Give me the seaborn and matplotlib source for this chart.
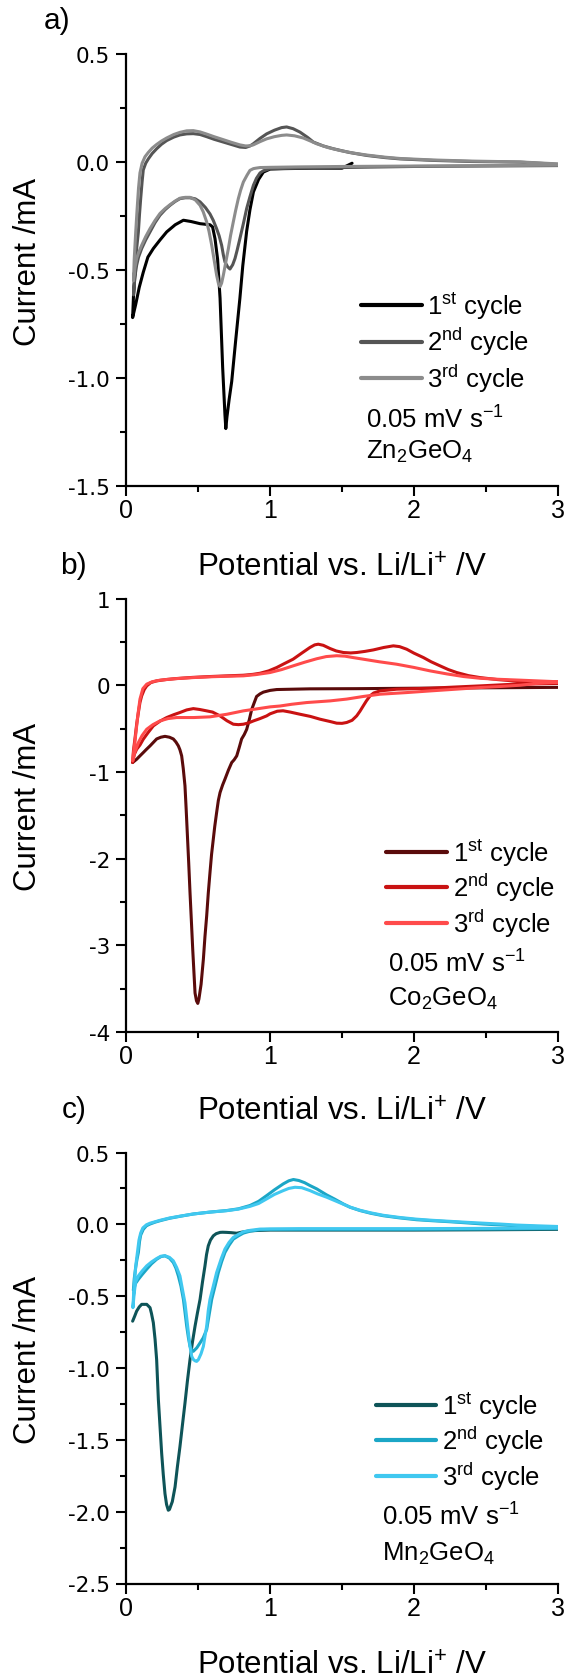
import numpy as np
import matplotlib
matplotlib.use("Agg")
import matplotlib.pyplot as plt
from matplotlib.ticker import MultipleLocator, AutoMinorLocator, FormatStrFormatter
import seaborn as sns

# ---------------- data (potential V vs. Li/Li+, current mA) ----------------
# Panel a: Zn2GeO4
zn1_cath_v = [1.57, 1.50, 1.30, 1.10, 1.00, 0.953, 0.92, 0.884, 0.86, 0.837, 0.81, 0.79, 0.76, 0.733, 0.715,
              0.70, 0.692, 0.686, 0.67, 0.652, 0.635, 0.617, 0.60, 0.582, 0.513, 0.45, 0.397, 0.34, 0.281,
              0.235, 0.188, 0.15, 0.118, 0.09, 0.065, 0.044, 0.05, 0.06]
zn1_cath_i = [-0.005, -0.028, -0.028, -0.03, -0.032, -0.046, -0.08, -0.138, -0.22, -0.32, -0.48, -0.63, -0.83,
              -1.016, -1.10, -1.18, -1.234, -1.17, -0.95, -0.63, -0.45, -0.355, -0.30, -0.29, -0.285, -0.275,
              -0.269, -0.29, -0.323, -0.36, -0.40, -0.44, -0.51, -0.58, -0.66, -0.72, -0.62, -0.52]
zn1_an_v = []
zn1_an_i = []

zn2_cath_v = [3.0, 2.5, 2.0, 1.5, 1.2, 1.0, 0.953, 0.93, 0.905, 0.884, 0.86, 0.837, 0.814, 0.79, 0.77, 0.756,
              0.74, 0.721, 0.705, 0.686, 0.675, 0.663, 0.645, 0.628, 0.605, 0.582, 0.55, 0.513, 0.48, 0.443,
              0.41, 0.373, 0.34, 0.304, 0.27, 0.234, 0.2, 0.165, 0.135, 0.107, 0.085, 0.072, 0.06, 0.05]
zn2_cath_i = [-0.016, -0.018, -0.02, -0.025, -0.028, -0.03, -0.04, -0.05, -0.075, -0.107, -0.16, -0.215,
              -0.285, -0.354, -0.41, -0.446, -0.475, -0.495, -0.485, -0.462, -0.43, -0.385, -0.34, -0.308,
              -0.27, -0.24, -0.21, -0.184, -0.17, -0.165, -0.165, -0.169, -0.182, -0.2, -0.22, -0.246, -0.28,
              -0.323, -0.36, -0.40, -0.44, -0.477, -0.53, -0.615]
zn2_an_v = [0.06, 0.072, 0.084, 0.092, 0.1, 0.11, 0.118, 0.135, 0.153, 0.18, 0.211, 0.245, 0.281, 0.33, 0.373,
            0.42, 0.466, 0.513, 0.559, 0.61, 0.675, 0.73, 0.79, 0.83, 0.86, 0.883, 0.93, 0.976, 1.03, 1.08,
            1.115, 1.16, 1.208, 1.26, 1.301, 1.37, 1.44, 1.55, 1.672, 1.8, 1.904, 2.136, 2.4, 2.74, 3.0]
zn2_an_i = [-0.50, -0.40, -0.323, -0.24, -0.169, -0.09, -0.036, -0.005, 0.015, 0.04, 0.062, 0.083, 0.10,
            0.116, 0.126, 0.131, 0.132, 0.128, 0.118, 0.106, 0.093, 0.082, 0.07, 0.068, 0.075, 0.085, 0.11,
            0.131, 0.148, 0.16, 0.163, 0.155, 0.139, 0.115, 0.093, 0.075, 0.062, 0.045, 0.031, 0.021, 0.015,
            0.008, 0.003, 0.0, -0.01]

zn3_cath_v = [3.0, 2.5, 2.0, 1.5, 1.2, 1.0, 0.93, 0.9, 0.884, 0.86, 0.84, 0.814, 0.795, 0.779, 0.76, 0.744,
              0.725, 0.71, 0.69, 0.675, 0.663, 0.652, 0.64, 0.628, 0.61, 0.594, 0.575, 0.559, 0.535, 0.513,
              0.48, 0.443, 0.41, 0.373, 0.34, 0.304, 0.27, 0.234, 0.2, 0.165, 0.135, 0.107, 0.085, 0.072,
              0.06, 0.05]
zn3_cath_i = [-0.014, -0.016, -0.018, -0.02, -0.022, -0.024, -0.025, -0.028, -0.03, -0.038, -0.06, -0.092,
              -0.13, -0.169, -0.225, -0.277, -0.34, -0.40, -0.47, -0.523, -0.56, -0.577, -0.56, -0.523, -0.45,
              -0.385, -0.32, -0.277, -0.23, -0.20, -0.175, -0.163, -0.163, -0.167, -0.18, -0.197, -0.215,
              -0.238, -0.27, -0.308, -0.345, -0.385, -0.42, -0.446, -0.49, -0.55]
zn3_an_v = [0.055, 0.065, 0.075, 0.085, 0.095, 0.11, 0.13, 0.153, 0.18, 0.211, 0.245, 0.281, 0.33, 0.373,
            0.42, 0.466, 0.513, 0.559, 0.61, 0.675, 0.73, 0.79, 0.83, 0.86, 0.883, 0.93, 0.976, 1.03, 1.08,
            1.115, 1.17, 1.23, 1.28, 1.324, 1.4, 1.486, 1.58, 1.672, 1.8, 1.904, 2.136, 2.4, 2.74, 3.0]
zn3_an_i = [-0.45, -0.33, -0.22, -0.12, -0.05, -0.005, 0.025, 0.045, 0.065, 0.082, 0.098, 0.112, 0.128,
            0.138, 0.145, 0.146, 0.14, 0.13, 0.118, 0.104, 0.092, 0.08, 0.075, 0.076, 0.08, 0.095, 0.108,
            0.118, 0.124, 0.126, 0.122, 0.112, 0.098, 0.085, 0.068, 0.054, 0.042, 0.033, 0.023, 0.017, 0.01,
            0.005, 0.001, -0.008]

# Panel b: Co2GeO4
co1_cath_v = [3.0, 2.5, 2.0, 1.6, 1.277, 1.1, 1.046, 1.0, 0.953, 0.93, 0.906, 0.89, 0.872, 0.855, 0.837,
              0.82, 0.802, 0.785, 0.768, 0.75, 0.733, 0.71, 0.686, 0.67, 0.652, 0.64, 0.628, 0.615, 0.605,
              0.593, 0.582, 0.57, 0.559, 0.547, 0.536, 0.52, 0.505, 0.497, 0.488, 0.478, 0.47, 0.462, 0.452,
              0.443, 0.434, 0.424, 0.416, 0.408, 0.396, 0.385, 0.373, 0.362, 0.345, 0.327, 0.3, 0.269, 0.24,
              0.211, 0.188, 0.165, 0.14, 0.118, 0.095, 0.072, 0.044]
co1_cath_i = [-0.025, -0.03, -0.035, -0.04, -0.042, -0.048, -0.05, -0.06, -0.08, -0.1, -0.13, -0.2, -0.28,
              -0.4, -0.51, -0.57, -0.62, -0.72, -0.815, -0.86, -0.892, -0.98, -1.084, -1.15, -1.238, -1.33,
              -1.47, -1.63, -1.776, -1.95, -2.16, -2.4, -2.66, -2.9, -3.16, -3.45, -3.62, -3.67, -3.64, -3.55,
              -3.3, -3.05, -2.7, -2.39, -2.05, -1.70, -1.42, -1.16, -0.96, -0.815, -0.745, -0.70, -0.655,
              -0.62, -0.60, -0.59, -0.60, -0.62, -0.66, -0.70, -0.74, -0.777, -0.815, -0.854, -0.892]
co1_an_v = []
co1_an_i = []

co2_cath_v = [3.0, 2.85, 2.69, 2.46, 2.3, 2.113, 1.88, 1.764, 1.72, 1.695, 1.67, 1.648, 1.625, 1.602, 1.57,
              1.533, 1.5, 1.463, 1.42, 1.347, 1.28, 1.208, 1.14, 1.09, 1.05, 1.0, 0.976, 0.93, 0.884, 0.85,
              0.814, 0.78, 0.744, 0.70, 0.652, 0.6, 0.559, 0.51, 0.466, 0.42, 0.373, 0.33, 0.281, 0.234,
              0.188, 0.15, 0.118, 0.095, 0.072, 0.055, 0.044]
co2_cath_i = [0.02, 0.015, 0.011, -0.008, -0.02, -0.035, -0.046, -0.066, -0.09, -0.123, -0.18, -0.238, -0.3,
              -0.354, -0.405, -0.43, -0.44, -0.438, -0.42, -0.392, -0.36, -0.335, -0.31, -0.295, -0.30,
              -0.33, -0.354, -0.385, -0.412, -0.435, -0.45, -0.455, -0.45, -0.41, -0.354, -0.31, -0.296,
              -0.28, -0.27, -0.285, -0.315, -0.34, -0.373, -0.415, -0.469, -0.55, -0.623, -0.69, -0.739,
              -0.80, -0.892]
co2_an_v = [0.05, 0.06, 0.072, 0.084, 0.095, 0.107, 0.125, 0.142, 0.17, 0.211, 0.28, 0.35, 0.46, 0.582, 0.7,
            0.814, 0.88, 0.93, 0.99, 1.046, 1.1, 1.16, 1.22, 1.277, 1.31, 1.335, 1.37, 1.417, 1.46, 1.51,
            1.56, 1.602, 1.66, 1.718, 1.79, 1.857, 1.9, 1.95, 2.0, 2.066, 2.12, 2.182, 2.24, 2.298, 2.38,
            2.46, 2.58, 2.69, 2.82, 3.0]
co2_an_i = [-0.75, -0.62, -0.45, -0.315, -0.2, -0.123, -0.05, -0.008, 0.03, 0.05, 0.066, 0.077, 0.09, 0.1,
            0.108, 0.115, 0.125, 0.138, 0.165, 0.204, 0.25, 0.3, 0.37, 0.435, 0.465, 0.473, 0.46, 0.423,
            0.395, 0.377, 0.372, 0.377, 0.39, 0.407, 0.435, 0.454, 0.445, 0.415, 0.37, 0.319, 0.27, 0.223,
            0.18, 0.146, 0.11, 0.088, 0.065, 0.05, 0.035, 0.025]

co3_cath_v = [3.0, 2.85, 2.74, 2.6, 2.46, 2.3, 2.113, 1.95, 1.764, 1.648, 1.533, 1.417, 1.34, 1.255, 1.15,
              1.069, 1.0, 0.9, 0.814, 0.7, 0.582, 0.47, 0.35, 0.29, 0.234, 0.185, 0.142, 0.11, 0.084, 0.06,
              0.044]
co3_cath_i = [0.035, 0.02, 0.0, -0.015, -0.027, -0.045, -0.066, -0.085, -0.104, -0.13, -0.16, -0.181, -0.19,
              -0.2, -0.22, -0.24, -0.25, -0.275, -0.296, -0.335, -0.365, -0.373, -0.373, -0.385, -0.412,
              -0.455, -0.508, -0.58, -0.662, -0.77, -0.873]
co3_an_v = [0.05, 0.058, 0.067, 0.08, 0.095, 0.115, 0.142, 0.18, 0.234, 0.34, 0.466, 0.6, 0.7, 0.814, 0.9,
            0.999, 1.08, 1.16, 1.24, 1.324, 1.39, 1.463, 1.52, 1.58, 1.648, 1.76, 1.88, 2.0, 2.113, 2.23,
            2.345, 2.46, 2.576, 2.74, 3.0]
co3_an_i = [-0.78, -0.68, -0.546, -0.35, -0.161, -0.04, 0.012, 0.04, 0.058, 0.075, 0.088, 0.098, 0.103,
            0.108, 0.122, 0.146, 0.18, 0.223, 0.265, 0.305, 0.33, 0.34, 0.335, 0.318, 0.3, 0.27, 0.242,
            0.205, 0.165, 0.13, 0.1, 0.08, 0.069, 0.058, 0.04]

# Panel c: Mn2GeO4
mn1_cath_v = [3.0, 2.5, 2.0, 1.5, 1.2, 0.999, 0.93, 0.86, 0.8, 0.768, 0.73, 0.698, 0.67, 0.652, 0.625, 0.605,
              0.585, 0.57, 0.558, 0.547, 0.53, 0.513, 0.495, 0.478, 0.46, 0.443, 0.425, 0.408, 0.39, 0.373,
              0.355, 0.339, 0.32, 0.3, 0.292, 0.28, 0.269, 0.257, 0.246, 0.234, 0.223, 0.211, 0.2, 0.188,
              0.175, 0.165, 0.142, 0.107, 0.09, 0.072, 0.058, 0.044]
mn1_cath_i = [-0.035, -0.038, -0.04, -0.04, -0.04, -0.04, -0.042, -0.045, -0.055, -0.062, -0.058, -0.056,
              -0.055, -0.056, -0.065, -0.08, -0.11, -0.15, -0.21, -0.29, -0.4, -0.522, -0.615, -0.709, -0.82,
              -0.942, -1.09, -1.245, -1.4, -1.548, -1.69, -1.828, -1.93, -1.985, -1.99, -1.95, -1.875, -1.74,
              -1.595, -1.4, -1.22, -0.942, -0.8, -0.685, -0.62, -0.58, -0.557, -0.557, -0.575, -0.604, -0.64,
              -0.674]
mn1_an_v = []
mn1_an_i = []

mn2_cath_v = [3.0, 2.5, 2.0, 1.5, 1.2, 1.0, 0.93, 0.86, 0.814, 0.78, 0.744, 0.715, 0.686, 0.663, 0.64, 0.617,
              0.594, 0.576, 0.559, 0.535, 0.513, 0.49, 0.466, 0.455, 0.443, 0.432, 0.42, 0.408, 0.397, 0.38,
              0.362, 0.345, 0.327, 0.3, 0.269, 0.24, 0.211, 0.175, 0.142, 0.11, 0.084, 0.065, 0.049]
mn2_cath_i = [-0.03, -0.033, -0.035, -0.035, -0.035, -0.035, -0.037, -0.048, -0.061, -0.08, -0.103, -0.145,
              -0.196, -0.26, -0.336, -0.43, -0.522, -0.63, -0.732, -0.79, -0.825, -0.86, -0.884, -0.875,
              -0.849, -0.79, -0.709, -0.61, -0.522, -0.43, -0.359, -0.305, -0.266, -0.235, -0.219, -0.225,
              -0.243, -0.275, -0.312, -0.35, -0.383, -0.41, -0.46]
mn2_an_v = [0.055, 0.065, 0.075, 0.084, 0.092, 0.1, 0.118, 0.14, 0.165, 0.2, 0.234, 0.3, 0.38, 0.466, 0.58,
            0.698, 0.78, 0.86, 0.92, 0.976, 1.03, 1.092, 1.13, 1.162, 1.2, 1.24, 1.277, 1.324, 1.36, 1.393,
            1.45, 1.509, 1.556, 1.625, 1.7, 1.787, 1.9, 2.019, 2.13, 2.251, 2.37, 2.483, 2.6, 2.715, 2.85, 3.0]
mn2_an_i = [-0.38, -0.3, -0.24, -0.196, -0.12, -0.075, -0.035, -0.01, 0.002, 0.015, 0.025, 0.042, 0.057,
            0.072, 0.085, 0.096, 0.108, 0.131, 0.16, 0.2, 0.24, 0.282, 0.303, 0.312, 0.305, 0.29, 0.27, 0.247,
            0.225, 0.205, 0.175, 0.142, 0.119, 0.096, 0.077, 0.06, 0.045, 0.032, 0.025, 0.018, 0.01, 0.002,
            -0.004, -0.01, -0.015, -0.02]

mn3_cath_v = [3.0, 2.5, 2.0, 1.5, 1.2, 1.0, 0.93, 0.86, 0.814, 0.78, 0.744, 0.715, 0.686, 0.66, 0.628, 0.605,
              0.582, 0.57, 0.559, 0.547, 0.536, 0.52, 0.501, 0.489, 0.478, 0.466, 0.455, 0.443, 0.432, 0.42,
              0.408, 0.39, 0.373, 0.35, 0.327, 0.3, 0.269, 0.24, 0.211, 0.175, 0.142, 0.11, 0.084, 0.065,
              0.055, 0.046]
mn3_cath_i = [-0.025, -0.028, -0.03, -0.03, -0.03, -0.032, -0.033, -0.042, -0.052, -0.07, -0.091, -0.125,
              -0.172, -0.24, -0.336, -0.43, -0.522, -0.6, -0.709, -0.78, -0.849, -0.9, -0.942, -0.954, -0.95,
              -0.94, -0.919, -0.85, -0.756, -0.65, -0.546, -0.45, -0.359, -0.3, -0.254, -0.23, -0.219, -0.222,
              -0.238, -0.262, -0.289, -0.325, -0.359, -0.4, -0.48, -0.58]
mn3_an_v = [0.05, 0.058, 0.068, 0.078, 0.088, 0.1, 0.115, 0.14, 0.165, 0.2, 0.234, 0.3, 0.38, 0.466, 0.58,
            0.698, 0.78, 0.86, 0.92, 0.976, 1.03, 1.092, 1.13, 1.173, 1.22, 1.277, 1.33, 1.393, 1.45, 1.509,
            1.556, 1.625, 1.7, 1.787, 1.9, 2.019, 2.13, 2.251, 2.37, 2.483, 2.6, 2.715, 2.85, 3.0]
mn3_an_i = [-0.5, -0.38, -0.27, -0.19, -0.11, -0.06, -0.025, -0.003, 0.008, 0.018, 0.028, 0.044, 0.058,
            0.072, 0.085, 0.095, 0.106, 0.125, 0.145, 0.177, 0.208, 0.235, 0.25, 0.258, 0.255, 0.235, 0.212,
            0.189, 0.165, 0.14, 0.12, 0.098, 0.08, 0.063, 0.048, 0.036, 0.028, 0.021, 0.014, 0.008, 0.002,
            -0.005, -0.01, -0.015]

cycle_labels = ["1$^{st}$ cycle", "2$^{nd}$ cycle", "3$^{rd}$ cycle"]
zn_colors = ["#000000", "#555555", "#8c8c8c"]
co_colors = ["#5a0b0b", "#c91212", "#ff4b4b"]
mn_colors = ["#0e5458", "#1ba6c6", "#40c8f0"]
panel_letters = ["a)", "b)", "c)"]
materials = ["Zn$_{2}$GeO$_{4}$", "Co$_{2}$GeO$_{4}$", "Mn$_{2}$GeO$_{4}$"]
rate_text = "0.05 mV s$^{-1}$"
x_label = "Potential vs. Li/Li$^{+}$ /V"
y_label = "Current /mA"

# ---------------- style ----------------
sns.set_theme(style="ticks")
plt.rcParams.update({
    "font.family": ["Liberation Sans", "DejaVu Sans"],
    "mathtext.fontset": "custom",
    "mathtext.rm": "Liberation Sans",
    "mathtext.it": "Liberation Sans:italic",
    "mathtext.bf": "Liberation Sans:bold",
    "mathtext.sf": "Liberation Sans",
    "mathtext.default": "regular",
    "axes.unicode_minus": False,
    "axes.linewidth": 1.6,
    "axes.edgecolor": "black",
    "xtick.color": "black",
    "ytick.color": "black",
    "text.color": "black",
    "axes.labelcolor": "black",
})

W, H = 566, 1681
fig = plt.figure(figsize=(W / 100, H / 100), dpi=100)
fig.patch.set_facecolor("white")

L, R = 126.3, 557.7

def frac(t, b, x, y):
    return (x - L) / (R - L), (b - y) / (b - t)

def place_legend(ax, x_px, y_px, spacing_px, fs=18.5):
    ls = 0.3
    fs_px = fs * 100 / 72
    pts = None
    leg = None
    for _ in range(4):
        leg = ax.legend(loc="upper left", bbox_to_anchor=(0.5, 0.5), bbox_transform=fig.transFigure,
                        frameon=False, fontsize=fs, handlelength=2.37, handletextpad=0.22,
                        labelspacing=ls, borderpad=0.0, borderaxespad=0.0)
        for ln in leg.get_lines():
            ln.set_linewidth(3.0)
        fig.canvas.draw()
        pts = [ln.get_transform().transform(ln.get_xydata())[0] for ln in leg.get_lines()]
        cur = pts[0][1] - pts[1][1]
        if abs(cur - spacing_px) < 0.3:
            break
        ls += (spacing_px - cur) / fs_px
    dx = x_px - pts[0][0]
    dy = (H - y_px) - pts[0][1]
    leg.set_bbox_to_anchor((0.5 + dx / W, 0.5 + dy / H), transform=fig.transFigure)
    return leg

panels = [
    dict(top=55.2, bot=487.0, ylim=(-1.5, 0.5), major=0.5, fmt="%.1f",
         data=[(zn1_cath_v, zn1_cath_i, zn1_an_v, zn1_an_i),
               (zn2_cath_v, zn2_cath_i, zn2_an_v, zn2_an_i),
               (zn3_cath_v, zn3_cath_i, zn3_an_v, zn3_an_i)],
         colors=zn_colors, letter=(43.3, 29.3), xlab_base=576.4,
         leg=(360.7, 306.0, 36.5), txt=(366.4, 428.3, 459.3)),
    dict(top=599.5, bot=1033.0, ylim=(-4, 1), major=1, fmt="%d",
         data=[(co1_cath_v, co1_cath_i, co1_an_v, co1_an_i),
               (co2_cath_v, co2_cath_i, co2_an_v, co2_an_i),
               (co3_cath_v, co3_cath_i, co3_an_v, co3_an_i)],
         colors=co_colors, letter=(59.6, 574.0), xlab_base=1120.4,
         leg=(386.3, 852.5, 35.7), txt=(388.1, 972.9, 1006.0)),
    dict(top=1153.5, bot=1584.5, ylim=(-2.5, 0.5), major=0.5, fmt="%.1f",
         data=[(mn1_cath_v, mn1_cath_i, mn1_an_v, mn1_an_i),
               (mn2_cath_v, mn2_cath_i, mn2_an_v, mn2_an_i),
               (mn3_cath_v, mn3_cath_i, mn3_an_v, mn3_an_i)],
         colors=mn_colors, letter=(61.4, 1118.0), xlab_base=1674.3,
         leg=(375.5, 1405.7, 35.7), txt=(382.0, 1526.0, 1561.0)),
]

for k, p in enumerate(panels):
    t, b = p["top"], p["bot"]
    ax = fig.add_axes([L / W, 1 - b / H, (R - L) / W, (b - t) / H])
    for (cv, ci, av, ai), col, lab in zip(p["data"], p["colors"], cycle_labels):
        v = list(cv) + list(av)
        i = list(ci) + list(ai)
        sns.lineplot(x=v, y=i, sort=False, estimator=None, color=col, linewidth=2.2, ax=ax, label=lab)
    ax.set_xlim(0, 3)
    ax.set_ylim(*p["ylim"])
    ax.xaxis.set_major_locator(MultipleLocator(1))
    ax.xaxis.set_minor_locator(AutoMinorLocator(2))
    ax.yaxis.set_major_locator(MultipleLocator(p["major"]))
    ax.yaxis.set_minor_locator(AutoMinorLocator(2))
    ax.yaxis.set_major_formatter(FormatStrFormatter(p["fmt"]))
    ax.xaxis.set_major_formatter(FormatStrFormatter("%d"))
    for s in ["top", "right"]:
        ax.spines[s].set_visible(False)
    for s in ["left", "bottom"]:
        ax.spines[s].set_linewidth(1.6)
    ax.tick_params(which="major", direction="out", length=7.5, width=1.5)
    ax.tick_params(which="minor", direction="out", length=4, width=1.5)
    ax.tick_params(axis="x", which="major", pad=1.5, labelsize=18)
    ax.tick_params(axis="y", which="major", pad=4.3, labelsize=15.5)
    ax.set_facecolor("white")

    ax.set_xlabel(x_label, fontsize=22.5)
    ax.xaxis.label.set_verticalalignment("baseline")
    ax.xaxis.set_label_coords(0.5, (b - p["xlab_base"]) / (b - t))
    ax.set_ylabel(y_label, fontsize=22.5)
    ax.yaxis.label.set_verticalalignment("center")
    ax.yaxis.set_label_coords((27.6 - L) / (R - L), 0.522)

    lx, ly, lsp = p["leg"]
    place_legend(ax, lx, ly, lsp)

    for lbl in ax.get_yticklabels():
        lbl.set_fontfamily("DejaVu Sans")
        lbl.set_fontsize(15.5)

    tx, ty1, ty2 = p["txt"]
    fx, fy = frac(t, b, tx, ty1)
    ax.text(fx, fy, rate_text, transform=ax.transAxes, fontsize=18.5, ha="left", va="baseline")
    fx, fy = frac(t, b, tx, ty2)
    ax.text(fx, fy, materials[k], transform=ax.transAxes, fontsize=18.5, ha="left", va="baseline")

    px, py = p["letter"]
    fig.text(px / W, 1 - py / H, panel_letters[k], fontsize=21.5, ha="left", va="baseline")

fig.savefig("out.png", dpi=100, facecolor="white")
